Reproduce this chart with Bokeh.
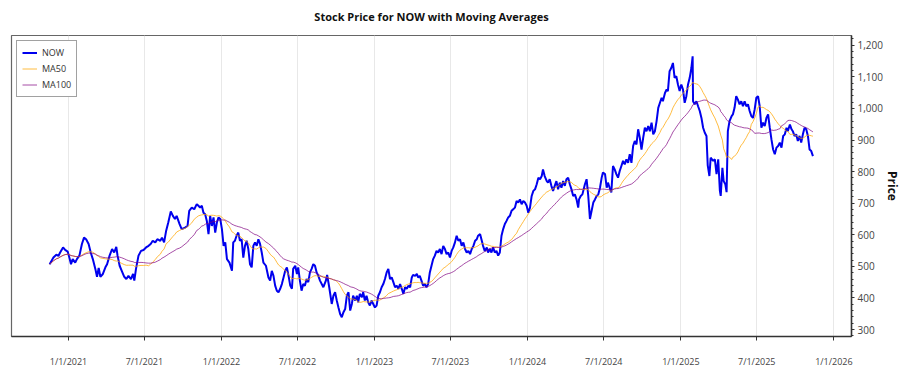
import pandas as pd
from bokeh.plotting import figure
from bokeh.models import Range1d, FixedTicker, SingleIntervalTicker, NumeralTickFormatter, Title
from bokeh.embed import file_html
from bokeh.resources import INLINE

# ---------------- data ----------------
dates = [
    "2020-11-17", "2020-11-26", "2020-12-03", "2020-12-08", "2020-12-12", "2020-12-19", "2020-12-24", "2020-12-30",
    "2021-01-03", "2021-01-07", "2021-01-11", "2021-01-17", "2021-01-21", "2021-01-27", "2021-02-02", "2021-02-07",
    "2021-02-12", "2021-02-18", "2021-02-23", "2021-02-28", "2021-03-06", "2021-03-10", "2021-03-14", "2021-03-18",
    "2021-03-24", "2021-03-30", "2021-04-03", "2021-04-09", "2021-04-15", "2021-04-20", "2021-04-25", "2021-04-28",
    "2021-05-03", "2021-05-08", "2021-05-14", "2021-05-19", "2021-05-24", "2021-05-30", "2021-06-04", "2021-06-07",
    "2021-06-11", "2021-06-17", "2021-06-23", "2021-06-29", "2021-07-05", "2021-07-11", "2021-07-16", "2021-07-21",
    "2021-07-27", "2021-08-01", "2021-08-08", "2021-08-12", "2021-08-17", "2021-08-22", "2021-08-27", "2021-09-02",
    "2021-09-07", "2021-09-12", "2021-09-16", "2021-09-23", "2021-09-28", "2021-10-06", "2021-10-12", "2021-10-16",
    "2021-10-22", "2021-10-28", "2021-11-03", "2021-11-07", "2021-11-11", "2021-11-15", "2021-11-19", "2021-11-23",
    "2021-11-27", "2021-12-01", "2021-12-05", "2021-12-09", "2021-12-13", "2021-12-17", "2021-12-21", "2021-12-25",
    "2021-12-29", "2022-01-02", "2022-01-06", "2022-01-10", "2022-01-14", "2022-01-20", "2022-01-26", "2022-01-29",
    "2022-02-02", "2022-02-06", "2022-02-10", "2022-02-14", "2022-02-18", "2022-02-22", "2022-02-26", "2022-03-02",
    "2022-03-06", "2022-03-10", "2022-03-14", "2022-03-18", "2022-03-22", "2022-03-26", "2022-03-30", "2022-04-03",
    "2022-04-07", "2022-04-11", "2022-04-17", "2022-04-23", "2022-04-27", "2022-05-01", "2022-05-05", "2022-05-09",
    "2022-05-13", "2022-05-17", "2022-05-21", "2022-05-25", "2022-05-29", "2022-06-02", "2022-06-06", "2022-06-10",
    "2022-06-14", "2022-06-18", "2022-06-21", "2022-06-26", "2022-06-30", "2022-07-03", "2022-07-07", "2022-07-11",
    "2022-07-15", "2022-07-19", "2022-07-23", "2022-07-27", "2022-07-31", "2022-08-04", "2022-08-08", "2022-08-12",
    "2022-08-16", "2022-08-20", "2022-08-24", "2022-09-01", "2022-09-07", "2022-09-10", "2022-09-15", "2022-09-21",
    "2022-09-25", "2022-09-29", "2022-10-03", "2022-10-07", "2022-10-11", "2022-10-15", "2022-10-19", "2022-10-23",
    "2022-10-27", "2022-10-31", "2022-11-04", "2022-11-08", "2022-11-11", "2022-11-16", "2022-11-20", "2022-11-23",
    "2022-11-27", "2022-12-02", "2022-12-05", "2022-12-09", "2022-12-13", "2022-12-17", "2022-12-21", "2022-12-25",
    "2022-12-29", "2023-01-02", "2023-01-06", "2023-01-10", "2023-01-14", "2023-01-18", "2023-01-22", "2023-01-26",
    "2023-01-30", "2023-02-03", "2023-02-07", "2023-02-11", "2023-02-15", "2023-02-19", "2023-02-23", "2023-02-27",
    "2023-03-03", "2023-03-07", "2023-03-11", "2023-03-15", "2023-03-19", "2023-03-23", "2023-03-27", "2023-03-31",
    "2023-04-03", "2023-04-08", "2023-04-12", "2023-04-15", "2023-04-19", "2023-04-23", "2023-04-27", "2023-05-01",
    "2023-05-05", "2023-05-09", "2023-05-13", "2023-05-17", "2023-05-21", "2023-05-25", "2023-05-29", "2023-06-02",
    "2023-06-06", "2023-06-10", "2023-06-14", "2023-06-18", "2023-06-22", "2023-06-26", "2023-06-30", "2023-07-04",
    "2023-07-08", "2023-07-12", "2023-07-16", "2023-07-20", "2023-07-24", "2023-07-28", "2023-08-01", "2023-08-05",
    "2023-08-09", "2023-08-13", "2023-08-17", "2023-08-21", "2023-08-25", "2023-08-29", "2023-09-02", "2023-09-05",
    "2023-09-10", "2023-09-14", "2023-09-17", "2023-09-21", "2023-09-26", "2023-09-29", "2023-10-03", "2023-10-07",
    "2023-10-11", "2023-10-15", "2023-10-19", "2023-10-23", "2023-10-27", "2023-10-31", "2023-11-04", "2023-11-08",
    "2023-11-12", "2023-11-16", "2023-11-20", "2023-11-24", "2023-11-28", "2023-12-02", "2023-12-06", "2023-12-10",
    "2023-12-14", "2023-12-18", "2023-12-22", "2023-12-26", "2023-12-30", "2024-01-03", "2024-01-07", "2024-01-11",
    "2024-01-15", "2024-01-19", "2024-01-23", "2024-01-27", "2024-01-31", "2024-02-04", "2024-02-07", "2024-02-11",
    "2024-02-16", "2024-02-19", "2024-02-23", "2024-02-27", "2024-03-02", "2024-03-06", "2024-03-10", "2024-03-14",
    "2024-03-18", "2024-03-22", "2024-03-26", "2024-03-30", "2024-04-03", "2024-04-07", "2024-04-11", "2024-04-15",
    "2024-04-19", "2024-04-23", "2024-04-27", "2024-05-01", "2024-05-03", "2024-05-07", "2024-05-11", "2024-05-17",
    "2024-05-21", "2024-05-25", "2024-05-29", "2024-06-02", "2024-06-06", "2024-06-10", "2024-06-14", "2024-06-18",
    "2024-06-22", "2024-06-26", "2024-06-29", "2024-07-04", "2024-07-08", "2024-07-11", "2024-07-15", "2024-07-19",
    "2024-07-23", "2024-07-27", "2024-07-31", "2024-08-04", "2024-08-08", "2024-08-12", "2024-08-16", "2024-08-20",
    "2024-08-24", "2024-08-28", "2024-09-01", "2024-09-05", "2024-09-09", "2024-09-13", "2024-09-17", "2024-09-21",
    "2024-09-25", "2024-09-29", "2024-10-03", "2024-10-07", "2024-10-11", "2024-10-15", "2024-10-19", "2024-10-23",
    "2024-10-27", "2024-10-31", "2024-11-04", "2024-11-08", "2024-11-12", "2024-11-16", "2024-11-19", "2024-11-24",
    "2024-11-28", "2024-12-01", "2024-12-05", "2024-12-09", "2024-12-13", "2024-12-17", "2024-12-21", "2024-12-25",
    "2024-12-29", "2025-01-02", "2025-01-06", "2025-01-10", "2025-01-14", "2025-01-18", "2025-01-22", "2025-01-26",
    "2025-01-29", "2025-01-30", "2025-02-03", "2025-02-07", "2025-02-11", "2025-02-15", "2025-02-19", "2025-02-23",
    "2025-02-27", "2025-03-03", "2025-03-06", "2025-03-10", "2025-03-13", "2025-03-19", "2025-03-23", "2025-03-27",
    "2025-03-31", "2025-04-04", "2025-04-06", "2025-04-10", "2025-04-13", "2025-04-17", "2025-04-20", "2025-04-23",
    "2025-04-27", "2025-05-02", "2025-05-05", "2025-05-09", "2025-05-13", "2025-05-17", "2025-05-21", "2025-05-25",
    "2025-05-29", "2025-06-02", "2025-06-06", "2025-06-10", "2025-06-14", "2025-06-18", "2025-06-22", "2025-06-26",
    "2025-06-30", "2025-07-04", "2025-07-08", "2025-07-12", "2025-07-16", "2025-07-20", "2025-07-24", "2025-07-28",
    "2025-08-01", "2025-08-05", "2025-08-09", "2025-08-13", "2025-08-17", "2025-08-21", "2025-08-25", "2025-08-29",
    "2025-09-02", "2025-09-06", "2025-09-10", "2025-09-13", "2025-09-18", "2025-09-22", "2025-09-25", "2025-09-29",
    "2025-10-03", "2025-10-07", "2025-10-11", "2025-10-15", "2025-10-19", "2025-10-23", "2025-10-27", "2025-10-31",
    "2025-11-04", "2025-11-08", "2025-11-12",
]

now_price = [
    507, 528, 537, 533, 544, 560, 552, 547,
    528, 507, 523, 512, 523, 534, 571, 591,
    586, 571, 544, 523, 492, 467, 495, 467,
    476, 497, 507, 534, 555, 544, 562, 534,
    502, 486, 467, 460, 470, 460, 476, 455,
    492, 534, 549, 552, 560, 565, 571, 581,
    576, 586, 581, 591, 576, 613, 639, 674,
    660, 650, 660, 634, 618, 623, 628, 676,
    686, 681, 697, 692, 686, 692, 670, 665,
    644, 602, 660, 628, 655, 607, 639, 655,
    650, 618, 565, 576, 523, 512, 486, 576,
    581, 597, 607, 581, 586, 528, 565, 581,
    555, 507, 497, 565, 576, 565, 586, 571,
    544, 512, 502, 465, 455, 486, 470, 439,
    423, 418, 429, 444, 465, 486, 497, 470,
    439, 429, 492, 502, 476, 497, 455, 423,
    444, 439, 460, 450, 481, 492, 507, 502,
    481, 470, 455, 434, 455, 473, 434, 381,
    407, 418, 392, 370, 349, 339, 355, 365,
    407, 418, 360, 381, 407, 392, 407, 386,
    413, 402, 418, 392, 407, 386, 376, 392,
    381, 370, 376, 407, 418, 434, 444, 460,
    481, 492, 460, 465, 450, 434, 439, 429,
    444, 429, 413, 434, 429, 439, 434, 465,
    473, 470, 476, 465, 470, 455, 439, 444,
    434, 444, 481, 502, 523, 534, 549, 544,
    555, 539, 565, 555, 539, 544, 528, 549,
    560, 576, 597, 581, 586, 565, 576, 555,
    544, 549, 539, 555, 565, 581, 586, 597,
    602, 581, 565, 549, 560, 544, 555, 544,
    560, 544, 549, 534, 544, 597, 618, 634,
    644, 655, 660, 676, 681, 686, 707, 702,
    712, 697, 707, 702, 692, 670, 686, 723,
    739, 744, 760, 781, 776, 786, 807, 786,
    770, 765, 776, 755, 739, 755, 770, 744,
    765, 749, 770, 755, 776, 781, 760, 744,
    723, 728, 712, 686, 712, 723, 728, 760,
    776, 723, 650, 676, 702, 712, 723, 728,
    749, 781, 797, 792, 749, 765, 749, 734,
    818, 807, 792, 781, 802, 818, 834, 823,
    839, 828, 855, 828, 881, 897, 886, 934,
    907, 870, 907, 939, 928, 944, 928, 955,
    918, 928, 960, 1002, 1018, 1034, 1023, 1049,
    1060, 1055, 1118, 1128, 1144, 1097, 1102, 1076,
    1055, 1076, 1060, 1018, 1039, 1076, 1097, 1128,
    1165, 1023, 1013, 1023, 1007, 992, 970, 939,
    923, 913, 820, 786, 844, 834, 839, 792,
    839, 739, 723, 812, 770, 760, 735, 928,
    960, 976, 981, 1002, 1039, 1028, 1013, 1023,
    1007, 1023, 1007, 1013, 992, 976, 970, 997,
    1034, 1039, 1007, 939, 955, 944, 970, 981,
    939, 902, 870, 855, 876, 881, 892, 876,
    913, 918, 939, 928, 949, 934, 928, 913,
    918, 897, 913, 892, 918, 939, 934, 913,
    870, 865, 849,
]

ma_windows = {"MA50": "72D", "MA100": "145D"}   # 50 / 100 trading days in calendar days

tick_dates = ["2021-01-01", "2021-07-01", "2022-01-01", "2022-07-01", "2023-01-01", "2023-07-01",
              "2024-01-01", "2024-07-01", "2025-01-01", "2025-07-01", "2026-01-01"]
tick_labels = ["1/1/2021", "7/1/2021", "1/1/2022", "7/1/2022", "1/1/2023", "7/1/2023",
               "1/1/2024", "7/1/2024", "1/1/2025", "7/1/2025", "1/1/2026"]

# ---------------- derived series ----------------
s = pd.Series(now_price, index=pd.to_datetime(dates), dtype=float)
ma50 = s.rolling(ma_windows["MA50"], min_periods=1).mean()
ma100 = s.rolling(ma_windows["MA100"], min_periods=1).mean()
x = s.index

FONT = "Open Sans"

p = figure(width=900, height=375, x_axis_type="linear", y_axis_location="right",
           output_backend="svg", toolbar_location=None, title=None,
           x_range=Range1d(pd.Timestamp("2020-08-18"), pd.Timestamp("2026-02-12")),
           y_range=Range1d(278, 1231),
           min_border_left=11, min_border_top=34, min_border_bottom=39, min_border_right=44)

p.line(x, s.values, color="#0000ee", line_width=2, legend_label="NOW")
p.line(x, ma50.values, color="orange", line_alpha=0.75, line_width=1, legend_label="MA50")
p.line(x, ma100.values, color="purple", line_alpha=0.7, line_width=1, legend_label="MA100")

# title: a thin spacer panel next to the frame, then the main title above it
spacer = Title(text=" ", text_font_size="1px", standoff=3)
p.add_layout(spacer, "above")
main_title = Title(text="Stock Price for NOW with Moving Averages", align="center",
                   text_font=FONT, text_font_size="11px", text_font_style="bold",
                   text_color="#111111", standoff=12)
p.add_layout(main_title, "above")

# x axis
tick_ms = [pd.Timestamp(d).value // 10**6 for d in tick_dates]
xt = FixedTicker(ticks=tick_ms, minor_ticks=[])
p.xaxis.ticker = xt
p.xgrid.ticker = xt
p.xaxis.major_label_overrides = {t: l for t, l in zip(tick_ms, tick_labels)}
p.xaxis.axis_line_color = "#333333"
p.xaxis.axis_line_width = 1.5
p.xaxis.major_tick_out = 4
p.xaxis.major_tick_in = 0
p.xaxis.minor_tick_out = 0
p.xaxis.major_tick_line_color = "#333333"
p.xaxis.major_label_standoff = 14
p.xaxis.major_label_text_font = FONT
p.xaxis.major_label_text_font_size = "9px"
p.xaxis.major_label_text_color = "#444444"

# y axis (right)
p.yaxis.ticker = SingleIntervalTicker(interval=100, num_minor_ticks=5)
p.yaxis.formatter = NumeralTickFormatter(format="0,0")
p.yaxis.axis_line_color = "#333333"
p.yaxis.axis_line_width = 1.5
p.yaxis.major_tick_out = 3
p.yaxis.major_tick_in = 0
p.yaxis.minor_tick_out = 2
p.yaxis.minor_tick_in = 0
p.yaxis.major_tick_line_color = "#333333"
p.yaxis.minor_tick_line_color = "#333333"
p.yaxis.major_label_standoff = 3
p.yaxis.major_label_text_font = FONT
p.yaxis.major_label_text_font_size = "10px"
p.yaxis.major_label_text_color = "#444444"

price_title = Title(text="Price", align="center", text_font=FONT, text_font_size="12px",
                    text_font_style="bold", text_color="#111111", standoff=-4)
p.add_layout(price_title, "right")

# grid / frame
p.xgrid.grid_line_color = "#e8e8e8"
p.ygrid.grid_line_color = None
p.outline_line_color = "#666666"
p.outline_line_width = 1.2
p.background_fill_color = "white"
p.border_fill_color = "white"

# legend
lg = p.legend[0]
lg.location = "top_left"
lg.margin = 5
lg.padding = 5
lg.spacing = 3
lg.glyph_width = 15
lg.glyph_height = 13
lg.label_height = 13
lg.label_standoff = 5
lg.label_text_font = FONT
lg.label_text_font_size = "9px"
lg.label_text_color = "#333333"
lg.border_line_color = "#444444"
lg.border_line_width = 1
lg.background_fill_color = "white"
lg.background_fill_alpha = 1.0

open("out.html", "w").write(file_html(p, INLINE))
